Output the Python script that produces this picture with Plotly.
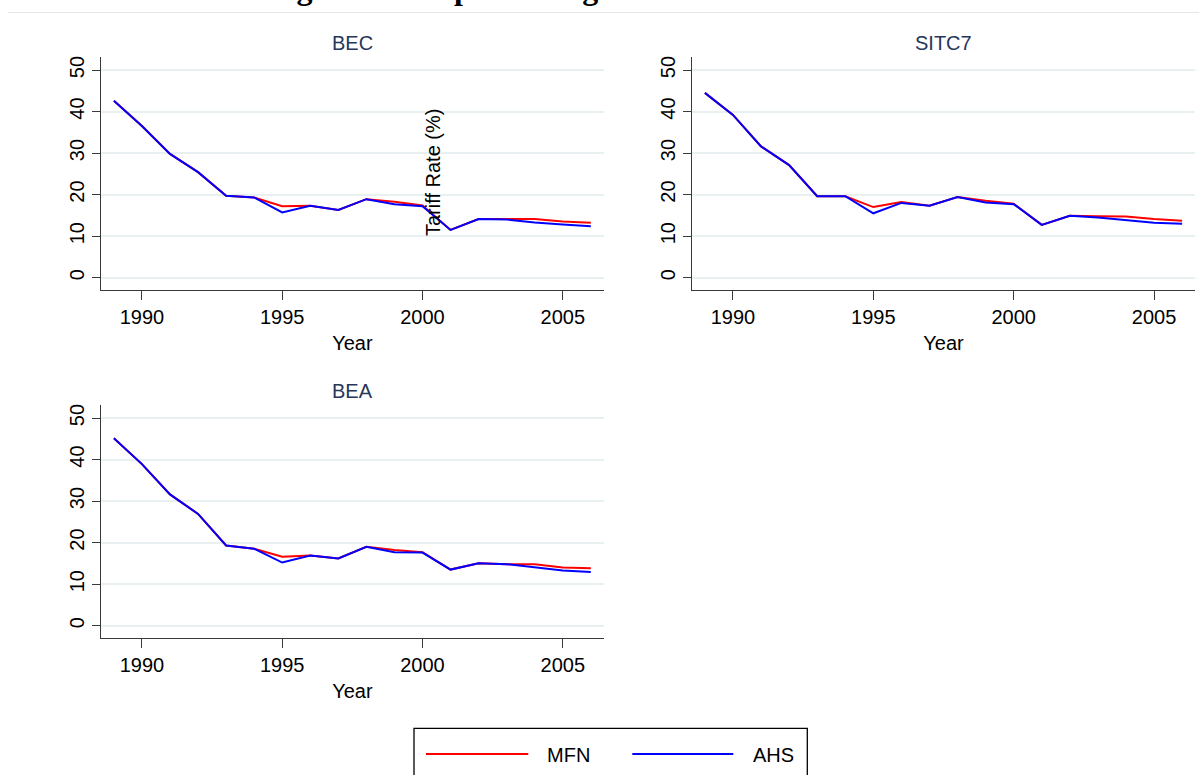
import plotly.graph_objects as go

# ---------------- data ----------------
years = list(range(1989, 2007))
panel_titles = ["BEC", "SITC7", "BEA"]
series_names = ["MFN", "AHS"]

bec_mfn = [42.6, 36.5, 29.8, 25.4, 19.7, 19.3, 17.2, 17.3, 16.3, 18.9, 18.3, 17.4, 11.5, 14.1, 14.1, 14.1, 13.5, 13.2]
bec_ahs = [42.6, 36.5, 29.8, 25.4, 19.7, 19.3, 15.7, 17.3, 16.3, 18.9, 17.7, 17.2, 11.5, 14.1, 14.0, 13.3, 12.8, 12.4]

sitc7_mfn = [44.5, 39.2, 31.6, 27.1, 19.6, 19.6, 17.0, 18.2, 17.3, 19.4, 18.5, 17.8, 12.7, 14.9, 14.8, 14.7, 14.1, 13.7]
sitc7_ahs = [44.5, 39.2, 31.6, 27.1, 19.6, 19.6, 15.5, 18.0, 17.3, 19.4, 18.1, 17.7, 12.7, 14.9, 14.5, 13.8, 13.2, 13.0]

bea_mfn = [45.1, 38.9, 31.6, 26.9, 19.3, 18.5, 16.6, 16.9, 16.2, 19.0, 18.2, 17.7, 13.5, 15.0, 14.8, 14.8, 14.0, 13.8]
bea_ahs = [45.1, 38.9, 31.6, 26.9, 19.3, 18.5, 15.2, 16.9, 16.2, 19.0, 17.7, 17.6, 13.5, 15.0, 14.8, 14.0, 13.3, 12.9]

x_ticks = [1990, 1995, 2000, 2005]
y_ticks = [0, 10, 20, 30, 40, 50]

# ---------------- layout helpers ----------------
W, H = 1199, 775
def px_x(p):
    return p / W
def px_y(p):
    return 1 - p / H

FONT = "Liberation Sans, Arial, Helvetica, sans-serif"
RED = "#FF0000"
BLUE = "#0000FF"
GRID = "#E9F0F2"
AXIS = "#3a3a3a"
TITLE_COL = "#26375A"
colors = [RED, BLUE]

# panel boxes in pixels (left, right, top, bottom)
boxes = [
    (100.7, 604.0, 57.3, 289.7),
    (691.7, 1195.3, 57.3, 289.7),
    (100.7, 604.0, 405.3, 637.7),
]
data = [(bec_mfn, bec_ahs), (sitc7_mfn, sitc7_ahs), (bea_mfn, bea_ahs)]

fig = go.Figure()

for i, ((mfn, ahs), title, box) in enumerate(zip(data, panel_titles, boxes)):
    n = "" if i == 0 else str(i + 1)
    xa, ya = "x" + n, "y" + n
    fig.add_trace(go.Scatter(x=years, y=mfn, mode="lines", name=series_names[0],
                             line=dict(color=RED, width=2), xaxis=xa, yaxis=ya,
                             showlegend=False))
    fig.add_trace(go.Scatter(x=years, y=ahs, mode="lines", name=series_names[1],
                             line=dict(color=BLUE, width=2), xaxis=xa, yaxis=ya,
                             showlegend=False))
    l, r, t, b = box
    fig.update_layout(**{
        "xaxis" + n: dict(
            domain=[px_x(l), px_x(r)], anchor=ya, range=[1988.53, 2006.47],
            tickvals=x_ticks, ticks="outside", ticklen=9, tickwidth=1.3, tickcolor=AXIS,
            showline=True, linecolor=AXIS, linewidth=1.3, showgrid=False, zeroline=False,
            tickfont=dict(family=FONT, size=20, color="black"),
            title=dict(text="Year", font=dict(family=FONT, size=20, color="black"), standoff=9),
        ),
        "yaxis" + n: dict(
            domain=[px_y(b), px_y(t)], anchor=xa, range=[-2.9, 53.06],
            tickvals=y_ticks, ticks="outside", ticklen=8, tickwidth=1.3, tickcolor=AXIS,
            tickangle=-90, showline=True, linecolor=AXIS, linewidth=1.3,
            showgrid=True, gridcolor=GRID, gridwidth=1.5, zeroline=False,
            tickfont=dict(family=FONT, size=20, color="black"),
        ),
    })
    fig.add_annotation(x=(px_x(l) + px_x(r)) / 2, y=px_y(t - 14), xref="paper", yref="paper",
                       text=title, showarrow=False, xanchor="center", yanchor="middle",
                       font=dict(family=FONT, size=20, color=TITLE_COL))

# stray y-axis title of the combined graph
fig.add_annotation(x=px_x(433), y=px_y(172), xref="paper", yref="paper",
                   text="Tariff Rate (%)", textangle=-90, showarrow=False,
                   xanchor="center", yanchor="middle",
                   font=dict(family=FONT, size=20, color="black"))

# main title, mostly cut off at the top of the page (as in the reference)
fig.add_annotation(x=px_x(266), y=px_y(-12), xref="paper", yref="paper",
                   text="<b>Figure 1: Simple Average MFN versus AHS</b>", showarrow=False,
                   xanchor="left", yanchor="middle",
                   font=dict(family="Liberation Serif, Times New Roman, serif", size=32, color="black"))

# thin frame line below the title
fig.add_shape(type="line", xref="paper", yref="paper", x0=px_x(8), x1=1, y0=px_y(12.5), y1=px_y(12.5),
              line=dict(color="#E6E6E6", width=1))

# legend box (Stata style: long key lines), bottom edge runs off the page
fig.add_shape(type="rect", xref="paper", yref="paper",
              x0=px_x(414), x1=px_x(807.3), y0=px_y(790), y1=px_y(728.3),
              line=dict(color="black", width=1.3), fillcolor="white", layer="below")
key_x = [(426, 528.3, 545), (632.3, 733.3, 750.7)]
for (x0, x1, tx), name, col in zip(key_x, series_names, colors):
    fig.add_shape(type="line", xref="paper", yref="paper",
                  x0=px_x(x0), x1=px_x(x1), y0=px_y(754), y1=px_y(754),
                  line=dict(color=col, width=2))
    fig.add_annotation(x=px_x(tx), y=px_y(755), xref="paper", yref="paper",
                       text=name, showarrow=False, xanchor="left", yanchor="middle",
                       font=dict(family=FONT, size=20, color="black"))

fig.update_layout(
    width=W, height=H,
    margin=dict(l=0, r=0, t=0, b=0),
    paper_bgcolor="white", plot_bgcolor="white",
    showlegend=False,
)

fig.write_html("out.html")
